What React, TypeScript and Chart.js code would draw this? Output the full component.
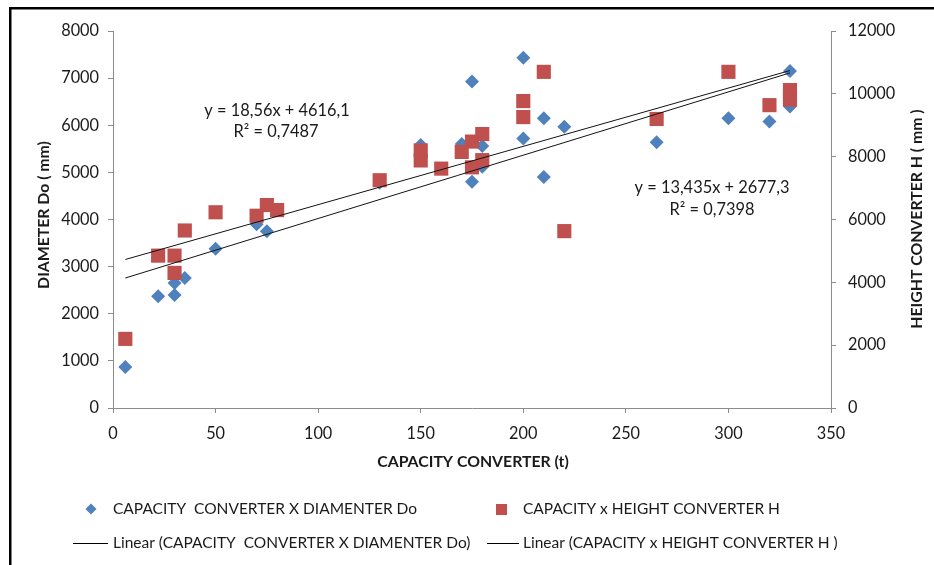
import React, { useEffect, useRef } from 'react';
import { Chart, registerables } from 'chart.js';

Chart.register(...registerables);

// ---- data ----
const capacityD = [6, 22, 30, 30, 35, 50, 70, 75, 130, 150, 170, 175, 175, 180, 180, 200, 200, 210, 210, 220, 265, 300, 320, 330, 330];
const diameterDo = [870, 2370, 2400, 2650, 2760, 3380, 3900, 3750, 4780, 5580, 5600, 6930, 4800, 5560, 5120, 7430, 5720, 6150, 4900, 5970, 5640, 6150, 6080, 7150, 6400];

const capacityH = [6, 22, 30, 30, 35, 50, 70, 75, 80, 130, 150, 150, 160, 170, 175, 175, 180, 180, 200, 200, 210, 220, 265, 300, 320, 330, 330];
const heightH = [2200, 4850, 4850, 4300, 5650, 6230, 6120, 6460, 6300, 7250, 8200, 7880, 7620, 8150, 8480, 7660, 8720, 7890, 9770, 9260, 10700, 5630, 9200, 10700, 9640, 10120, 9820];

const trendX = [6, 330];
const trendDiameter = [2758, 7111];
const trendHeight = [4727, 10741];

const seriesNames = ['CAPACITY  CONVERTER X DIAMENTER Do', 'CAPACITY x HEIGHT CONVERTER H'];
const trendNames = ['Linear (CAPACITY  CONVERTER X DIAMENTER Do)', 'Linear (CAPACITY x HEIGHT CONVERTER H )'];
const equationD = ['y = 13,435x + 2677,3', 'R² = 0,7398'];
const equationH = ['y = 18,56x + 4616,1', 'R² = 0,7487'];

const xTitle = 'CAPACITY CONVERTER (t)';
const yTitle = 'DIAMETER Do ( mm)';
const y1Title = 'HEIGHT CONVERTER H ( mm )';

const xRange = [0, 350, 50];
const yRange = [0, 8000, 1000];
const y1Range = [0, 12000, 2000];

const BLUE = '#4F81BD';
const RED = '#C0504D';
const AXIS = '#8c8c8c';
const TEXT = '#1a1a1a';
const FONT = 'Lato, "Open Sans", sans-serif';

const overlay = {
  id: 'overlay',
  afterDraw(chart: any) {
    const { ctx } = chart;
    ctx.save();
    // frame
    ctx.strokeStyle = '#000';
    ctx.lineWidth = 2.5;
    ctx.beginPath();
    ctx.moveTo(10.25, 565);
    ctx.lineTo(10.25, 8.25);
    ctx.lineTo(934, 8.25);
    ctx.stroke();

    ctx.fillStyle = TEXT;
    ctx.textBaseline = 'middle';
    ctx.textAlign = 'center';

    // axis titles
    ctx.font = `bold 15.8px ${FONT}`;
    ctx.fillText(xTitle, 473, 462);
    ctx.save();
    ctx.translate(44, 215);
    ctx.rotate(-Math.PI / 2);
    ctx.fillText(yTitle, 0, 0);
    ctx.restore();
    ctx.save();
    ctx.translate(917, 219);
    ctx.rotate(-Math.PI / 2);
    ctx.fillText(y1Title, 0, 0);
    ctx.restore();

    // trendline equations
    ctx.font = `16.4px ${FONT}`;
    ctx.fillText(equationH[0], 277, 111);
    ctx.fillText(equationH[1], 276, 132);
    ctx.fillText(equationD[0], 712, 188);
    ctx.fillText(equationD[1], 712, 210);

    // legend
    ctx.font = `15.5px ${FONT}`;
    ctx.textAlign = 'left';
    ctx.fillStyle = BLUE;
    ctx.beginPath();
    ctx.moveTo(91, 503.5);
    ctx.lineTo(96.5, 509);
    ctx.lineTo(91, 514.5);
    ctx.lineTo(85.5, 509);
    ctx.closePath();
    ctx.fill();
    ctx.fillStyle = RED;
    ctx.fillRect(496, 504, 11, 11);
    ctx.fillStyle = TEXT;
    ctx.fillText(seriesNames[0], 113, 509);
    ctx.fillText(seriesNames[1], 523, 509);
    ctx.strokeStyle = '#000';
    ctx.lineWidth = 1;
    ctx.beginPath();
    ctx.moveTo(73, 543.5);
    ctx.lineTo(108, 543.5);
    ctx.moveTo(487, 543.5);
    ctx.lineTo(519, 543.5);
    ctx.stroke();
    ctx.fillText(trendNames[0], 113, 543);
    ctx.fillText(trendNames[1], 523, 543);
    ctx.restore();
  },
};

export default function App() {
  const ref = useRef<HTMLCanvasElement | null>(null);

  useEffect(() => {
    if (!ref.current) return;
    const tickFont = { family: FONT, size: 16.3 };
    const gridOpts = { drawOnChartArea: false, drawTicks: true, tickLength: 5, color: AXIS };
    const borderOpts = { color: AXIS, width: 1 };
    const chart = new Chart(ref.current, {
      type: 'scatter',
      data: {
        datasets: [
          {
            label: trendNames[0],
            type: 'line',
            data: trendX.map((x, i) => ({ x, y: trendDiameter[i] })),
            yAxisID: 'y',
            borderColor: '#111',
            borderWidth: 1,
            pointRadius: 0,
            fill: false,
            order: 0,
          } as any,
          {
            label: trendNames[1],
            type: 'line',
            data: trendX.map((x, i) => ({ x, y: trendHeight[i] })),
            yAxisID: 'y1',
            borderColor: '#111',
            borderWidth: 1,
            pointRadius: 0,
            fill: false,
            order: 0,
          } as any,
          {
            label: seriesNames[1],
            data: capacityH.map((x, i) => ({ x, y: heightH[i] })),
            yAxisID: 'y1',
            pointStyle: 'rect',
            pointRadius: 10,
            backgroundColor: RED,
            borderColor: RED,
            borderWidth: 0,
            order: 1,
          },
          {
            label: seriesNames[0],
            data: capacityD.map((x, i) => ({ x, y: diameterDo[i] })),
            yAxisID: 'y',
            pointStyle: 'rectRot',
            pointRadius: 7,
            backgroundColor: BLUE,
            borderColor: BLUE,
            borderWidth: 0,
            order: 2,
          },
        ],
      },
      options: {
        responsive: false,
        animation: false,
        events: [],
        layout: { padding: { left: 10, right: 8, top: 31, bottom: 0 } },
        plugins: { legend: { display: false }, tooltip: { enabled: false } },
        scales: {
          x: {
            type: 'linear',
            position: 'bottom',
            min: xRange[0],
            max: xRange[1],
            ticks: { stepSize: xRange[2], padding: 11, font: tickFont, color: TEXT, callback: (v: any) => String(v) },
            grid: gridOpts,
            border: borderOpts,
            afterFit: (s: any) => { s.height = 157; },
          },
          y: {
            type: 'linear',
            position: 'left',
            min: yRange[0],
            max: yRange[1],
            ticks: { stepSize: yRange[2], padding: 9, font: tickFont, color: TEXT, callback: (v: any) => String(v) },
            grid: gridOpts,
            border: borderOpts,
            afterFit: (s: any) => { s.width = 103; },
          },
          y1: {
            type: 'linear',
            position: 'right',
            min: y1Range[0],
            max: y1Range[1],
            ticks: { stepSize: y1Range[2], padding: 12, font: tickFont, color: TEXT, callback: (v: any) => String(v) },
            grid: gridOpts,
            border: borderOpts,
            afterFit: (s: any) => { s.width = 95; },
          },
        },
      } as any,
      plugins: [overlay],
    });
    return () => chart.destroy();
  }, []);

  return (
    <div style={{ position: 'fixed', left: 0, top: 0, width: 934, height: 565, background: '#fff' }}>
      <canvas ref={ref} width={934} height={565} style={{ width: 934, height: 565, display: 'block' }} />
    </div>
  );
}
